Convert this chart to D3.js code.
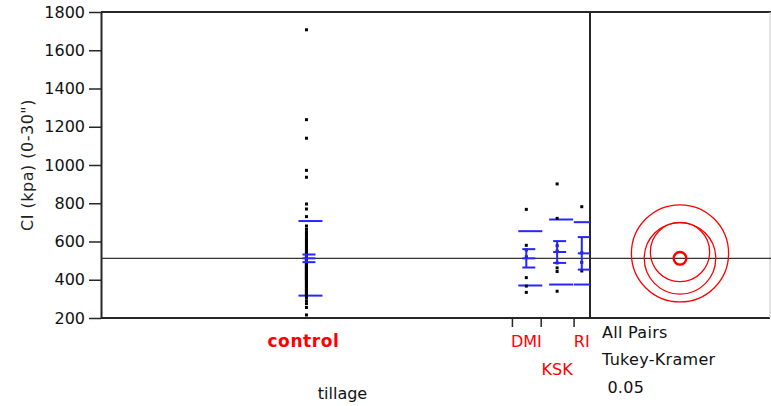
<!DOCTYPE html>
<html>
<head>
<meta charset="utf-8">
<script src="https://cdn.jsdelivr.net/npm/d3@7"></script>
<style>
  body { margin: 0; background: #fff; }
  text { font-family: "DejaVu Sans", Verdana, sans-serif; }
</style>
</head>
<body>
<svg id="chart" width="771" height="406"></svg>
<script>
// groepen (tillage)
var groups = ["control", "DMI", "KSK", "RI"];

var controlValues = [
  1707, 1237, 1140, 972, 936, 796, 770, 730,
  681, 664, 650, 641, 632, 620, 611, 603, 596, 588,
  580, 574, 566, 560, 553, 548, 541, 536, 530, 525,
  521, 517, 512, 508, 504, 500, 497, 493, 490, 486,
  483, 480, 477, 474, 471, 468, 465, 462, 459, 456,
  453, 450, 447, 444, 441, 438, 435, 432, 429, 426,
  423, 420, 417, 414, 411, 408, 405, 402, 399, 396,
  392, 388, 384, 380, 376, 372, 368, 364, 360, 356,
  352, 348, 344, 340, 336, 332, 328, 324, 320, 316,
  312, 306, 515, 495, 470, 455, 430, 410,
  290, 275, 255, 216
];
var dmiValues = [768, 580, 556, 520, 411, 367, 334];
var kskValues = [901, 721, 578, 550, 488, 462, 443, 340];
var riValues = [782, 541, 491, 446];

// samenvatting per groep (gemiddelde, std error, std dev, cirkelstraal)
var groupMeans = [512, 512, 545, 538];
var groupSE = [20, 48, 57, 85];
var groupSD = [195, 142, 170, 163];
var circleRadius = [33, 187, 155, 254];
var grandMean = 512;

var yTicks = [200, 400, 600, 800, 1000, 1200, 1400, 1600, 1800];
var yTitle = "CI (kpa) (0-30\")";
var xTitle = "tillage";
var testLines = ["All Pairs", "Tukey-Kramer", " 0.05"];

var allValues = [controlValues, dmiValues, kskValues, riValues];

// afmetingen
var plotLeft = 101, plotRight = 590, plotTop = 12, plotBottom = 318;
var panelRight = 770;

var svg = d3.select("#chart");

var y = d3.scaleLinear().domain([200, 1800]).range([plotBottom, plotTop]);

// breedte van elke groep evenredig met aantal metingen
var counts = allValues.map(function(v) { return v.length; });
var cum = [0];
counts.forEach(function(n, i) { cum.push(cum[i] + n); });
var x = d3.scaleLinear().domain([0, cum[cum.length - 1]]).range([plotLeft, plotRight]);
var centers = counts.map(function(n, i) { return x(cum[i] + n / 2); });

svg.append("defs").append("clipPath").attr("id", "plotclip")
  .append("rect").attr("x", plotLeft).attr("y", plotTop)
  .attr("width", plotRight - plotLeft).attr("height", plotBottom - plotTop);

// kader
var frame = "#262626";
svg.append("line").attr("x1", plotLeft).attr("x2", 771).attr("y1", plotTop).attr("y2", plotTop)
  .attr("stroke", frame).attr("stroke-width", 2);
svg.append("line").attr("x1", plotLeft).attr("x2", panelRight).attr("y1", plotBottom).attr("y2", plotBottom)
  .attr("stroke", frame).attr("stroke-width", 2);
svg.append("line").attr("x1", plotRight).attr("x2", plotRight).attr("y1", plotTop).attr("y2", plotBottom)
  .attr("stroke", frame).attr("stroke-width", 2);
svg.append("line").attr("x1", panelRight).attr("x2", panelRight).attr("y1", plotTop).attr("y2", plotBottom)
  .attr("stroke", "#c8c8c8").attr("stroke-width", 1);

// y-as
var yAxis = svg.append("g")
  .attr("transform", "translate(" + plotLeft + ",0)")
  .call(d3.axisLeft(y).tickValues(yTicks).tickFormat(d3.format("d"))
    .tickSize(12).tickSizeOuter(0).tickPadding(4));
yAxis.select(".domain").attr("stroke", frame).attr("stroke-width", 2);
yAxis.selectAll(".tick line").attr("stroke", frame).attr("stroke-width", 1.5);
yAxis.selectAll(".tick text").attr("font-size", 16).attr("fill", "#111")
  .style("font-family", "'DejaVu Sans', sans-serif");

svg.append("text")
  .attr("transform", "translate(33," + ((plotTop + plotBottom) / 2) + ") rotate(-90)")
  .attr("text-anchor", "middle")
  .attr("font-size", 16)
  .attr("letter-spacing", 0.5)
  .attr("fill", "#222")
  .text(yTitle);

// x-as: streepjes op de grenzen tussen groepen
var xAxis = svg.append("g")
  .attr("transform", "translate(0," + plotBottom + ")")
  .call(d3.axisBottom(x).tickValues(cum.slice(1, cum.length - 1)).tickSize(9).tickSizeOuter(0).tickFormat(""));
xAxis.select(".domain").remove();
xAxis.selectAll(".tick line").attr("stroke", frame).attr("stroke-width", 1.5);

// groepslabels, verspringend als ze elkaar raken
var rowEnd = [-Infinity, -Infinity];
groups.forEach(function(g, i) {
  var t = svg.append("text")
    .attr("x", centers[i] - (i === 0 ? 3 : 0))
    .attr("text-anchor", "middle")
    .attr("font-size", i === 0 ? 17 : 16)
    .attr("letter-spacing", i === 0 ? 0.6 : 0)
    .attr("font-weight", i === 0 ? "bold" : "normal")
    .attr("fill", "#ff0000")
    .text(g);
  var w = t.node().getComputedTextLength();
  var row = (centers[i] - w / 2 < rowEnd[0] + 1) ? 1 : 0;
  rowEnd[row] = centers[i] + w / 2;
  t.attr("y", row === 0 ? 347 : 375);
});

svg.append("text")
  .attr("x", (plotLeft + plotRight) / 2 - 3)
  .attr("y", 399)
  .attr("text-anchor", "middle")
  .attr("font-size", 16)
  .attr("fill", "#111")
  .text(xTitle);

svg.selectAll(".testline")
  .data(testLines)
  .enter().append("text")
  .attr("class", "testline")
  .attr("x", plotRight + 12)
  .attr("y", function(d, i) { return 338 + i * 27.3; })
  .attr("font-size", 16)
  .attr("letter-spacing", 0.3)
  .attr("fill", "#111")
  .style("white-space", "pre")
  .text(function(d) { return d; });

// totaal gemiddelde
svg.append("line")
  .attr("x1", plotLeft).attr("x2", 771)
  .attr("y1", y(grandMean)).attr("y2", y(grandMean))
  .attr("stroke", "#333").attr("stroke-width", 1.3);

var plot = svg.append("g").attr("clip-path", "url(#plotclip)");
var blue = "#2626ff";

// std dev lijnen
groups.forEach(function(g, i) {
  [groupMeans[i] - groupSD[i], groupMeans[i] + groupSD[i]].forEach(function(v) {
    plot.append("line")
      .attr("x1", centers[i] - 8).attr("x2", centers[i] + 16)
      .attr("y1", y(v)).attr("y2", y(v))
      .attr("stroke", blue).attr("stroke-width", 2);
  });
});

// metingen
allValues.forEach(function(vals, i) {
  plot.selectAll(".pt" + i)
    .data(vals)
    .enter().append("rect")
    .attr("class", "pt" + i)
    .attr("x", centers[i] - 1.5)
    .attr("y", function(d) { return y(d) - 1.5; })
    .attr("width", 3)
    .attr("height", 3)
    .attr("fill", "#000");
});

// mean error bars
groups.forEach(function(g, i) {
  var m = groupMeans[i], se = groupSE[i];
  plot.append("line")
    .attr("x1", centers[i]).attr("x2", centers[i])
    .attr("y1", y(m - se)).attr("y2", y(m + se))
    .attr("stroke", blue).attr("stroke-width", 2);
  [m - se, m, m + se].forEach(function(v) {
    plot.append("line")
      .attr("x1", centers[i] - 4).attr("x2", centers[i] + 9)
      .attr("y1", y(v)).attr("y2", y(v))
      .attr("stroke", blue).attr("stroke-width", 2);
  });
});

// vergelijkingscirkels (Tukey-Kramer)
var cx = (plotRight + panelRight) / 2;
groups.forEach(function(g, i) {
  svg.append("circle")
    .attr("cx", cx)
    .attr("cy", y(groupMeans[i]))
    .attr("r", y(groupMeans[i] - circleRadius[i]) - y(groupMeans[i]))
    .attr("fill", "none")
    .attr("stroke", "#ff0000")
    .attr("stroke-width", i === 0 ? 2.4 : 1.3);
});
</script>
</body>
</html>
